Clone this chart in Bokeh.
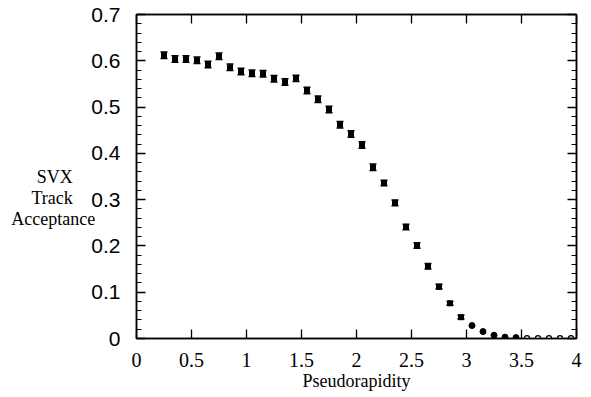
from bokeh.plotting import figure
from bokeh.models import (ColumnDataSource, Range1d, LinearAxis, FixedTicker,
                          Whisker, TeeHead)
from bokeh.embed import file_html
from bokeh.resources import INLINE

# ---- data ----
eta = [0.25, 0.35, 0.45, 0.55, 0.65, 0.75, 0.85, 0.95, 1.05, 1.15,
       1.25, 1.35, 1.45, 1.55, 1.65, 1.75, 1.85, 1.95, 2.05, 2.15,
       2.25, 2.35, 2.45, 2.55, 2.65, 2.75, 2.85, 2.95, 3.05, 3.15,
       3.25, 3.35, 3.45, 3.55, 3.65, 3.75, 3.85, 3.95]
acceptance = [0.612, 0.604, 0.604, 0.601, 0.592, 0.610, 0.586, 0.577, 0.573, 0.572,
              0.561, 0.554, 0.562, 0.536, 0.517, 0.495, 0.462, 0.442, 0.418, 0.370,
              0.336, 0.293, 0.241, 0.201, 0.156, 0.112, 0.076, 0.046, 0.028, 0.015,
              0.007, 0.003, 0.002, 0.001, 0.001, 0.001, 0.001, 0.001]
errors = [0.007, 0.007, 0.007, 0.007, 0.007, 0.007, 0.007, 0.007, 0.007, 0.007,
          0.007, 0.007, 0.007, 0.007, 0.007, 0.007, 0.007, 0.007, 0.007, 0.007,
          0.006, 0.006, 0.006, 0.006, 0.006, 0.005, 0.004, 0.004, 0.0, 0.0,
          0.0, 0.0, 0.0, 0.0, 0.0, 0.0, 0.0, 0.0]
x_ticks = [0, 0.5, 1, 1.5, 2, 2.5, 3, 3.5, 4]
x_tick_labels = ["0", "0.5", "1", "1.5", "2", "2.5", "3", "3.5", "4"]
y_ticks = [0, 0.1, 0.2, 0.3, 0.4, 0.5, 0.6, 0.7]
y_tick_labels = ["0", "0.1", "0.2", "0.3", "0.4", "0.5", "0.6", "0.7"]
y_minor = [round(i * 0.02, 2) for i in range(36)]
x_title = "Pseudorapidity"
y_title = ["SVX", "Track", "Acceptance"]

n_sq = 28      # points drawn as squares with error bars
n_fill = 33    # points drawn as filled circles up to this index

upper = [a + e for a, e in zip(acceptance, errors)]
lower = [a - e for a, e in zip(acceptance, errors)]

src_sq = ColumnDataSource(dict(x=eta[:n_sq], y=acceptance[:n_sq],
                               up=upper[:n_sq], lo=lower[:n_sq]))
src_fc = ColumnDataSource(dict(x=eta[n_sq:n_fill], y=acceptance[n_sq:n_fill]))
src_oc = ColumnDataSource(dict(x=eta[n_fill:], y=acceptance[n_fill:]))

p = figure(width=591, height=397, output_backend="svg", toolbar_location=None,
           x_range=Range1d(0, 4), y_range=Range1d(0, 0.7),
           min_border_left=136, min_border_right=15,
           min_border_top=14, min_border_bottom=59,
           background_fill_color="white", border_fill_color="white")
p.grid.visible = False
p.outline_line_color = "black"
p.outline_line_width = 1.5

serif = "Liberation Serif"
sans = "Liberation Sans"

def style_axis(ax, ticks, minor, labels, show_labels, font, size):
    ax.ticker = FixedTicker(ticks=ticks, minor_ticks=minor)
    ax.major_tick_in = 9
    ax.major_tick_out = 0
    ax.minor_tick_in = 5
    ax.minor_tick_out = 0
    ax.axis_line_color = "black"
    ax.axis_line_width = 1.5
    ax.major_tick_line_color = "black"
    ax.major_tick_line_width = 1.3
    ax.minor_tick_line_color = "black"
    ax.minor_tick_line_width = 1.2
    if show_labels:
        ax.major_label_overrides = {t: l for t, l in zip(ticks, labels)}
        ax.major_label_text_font = font
        ax.major_label_text_font_size = size
        ax.major_label_text_color = "black"
    else:
        ax.major_label_text_font_size = "0px"
        ax.major_label_text_color = None

xb = p.xaxis[0]
style_axis(xb, x_ticks, [], x_tick_labels, True, serif, "20px")
xb.major_label_standoff = 14
xb.axis_label = x_title
xb.axis_label_text_font = serif
xb.axis_label_text_font_style = "normal"
xb.axis_label_text_font_size = "18px"
xb.axis_label_standoff = 1
xb.axis_label_text_color = "black"

# y title: horizontal, three lines; lines padded with no-break spaces so the
# right-aligned block reads as centred, two empty lines lower it a little
nb = "\u00a0"
pad = [5, 5, 0]
yl = p.yaxis[0]
style_axis(yl, y_ticks, y_minor, y_tick_labels, True, sans, "21px")
yl.major_label_standoff = 16
yl.axis_label = "\n\n" + "\n".join(t + nb * k for t, k in zip(y_title, pad))
yl.axis_label_orientation = "horizontal"
yl.axis_label_text_font = serif
yl.axis_label_text_font_style = "normal"
yl.axis_label_text_font_size = "18px"
yl.axis_label_text_line_height = 1.05
yl.axis_label_standoff = -7
yl.axis_label_text_color = "black"

xt = LinearAxis()
style_axis(xt, x_ticks, [], x_tick_labels, False, serif, "17px")
p.add_layout(xt, "above")
yr = LinearAxis()
style_axis(yr, y_ticks, y_minor, y_tick_labels, False, sans, "17px")
p.add_layout(yr, "right")

# error bars
p.add_layout(Whisker(base="x", upper="up", lower="lo", source=src_sq,
                     line_color="black", line_width=1.2,
                     upper_head=TeeHead(size=7, line_color="black", line_width=1.5),
                     lower_head=TeeHead(size=7, line_color="black", line_width=1.5)))
p.scatter("x", "y", source=src_sq, marker="square", size=5,
          fill_color="black", line_color="black")
p.scatter("x", "y", source=src_fc, marker="circle", size=6,
          fill_color="black", line_color="black")
p.scatter("x", "y", source=src_oc, marker="circle", size=5,
          fill_color="white", line_color="black", line_width=1.3)

open("out.html", "w").write(file_html(p, INLINE))
